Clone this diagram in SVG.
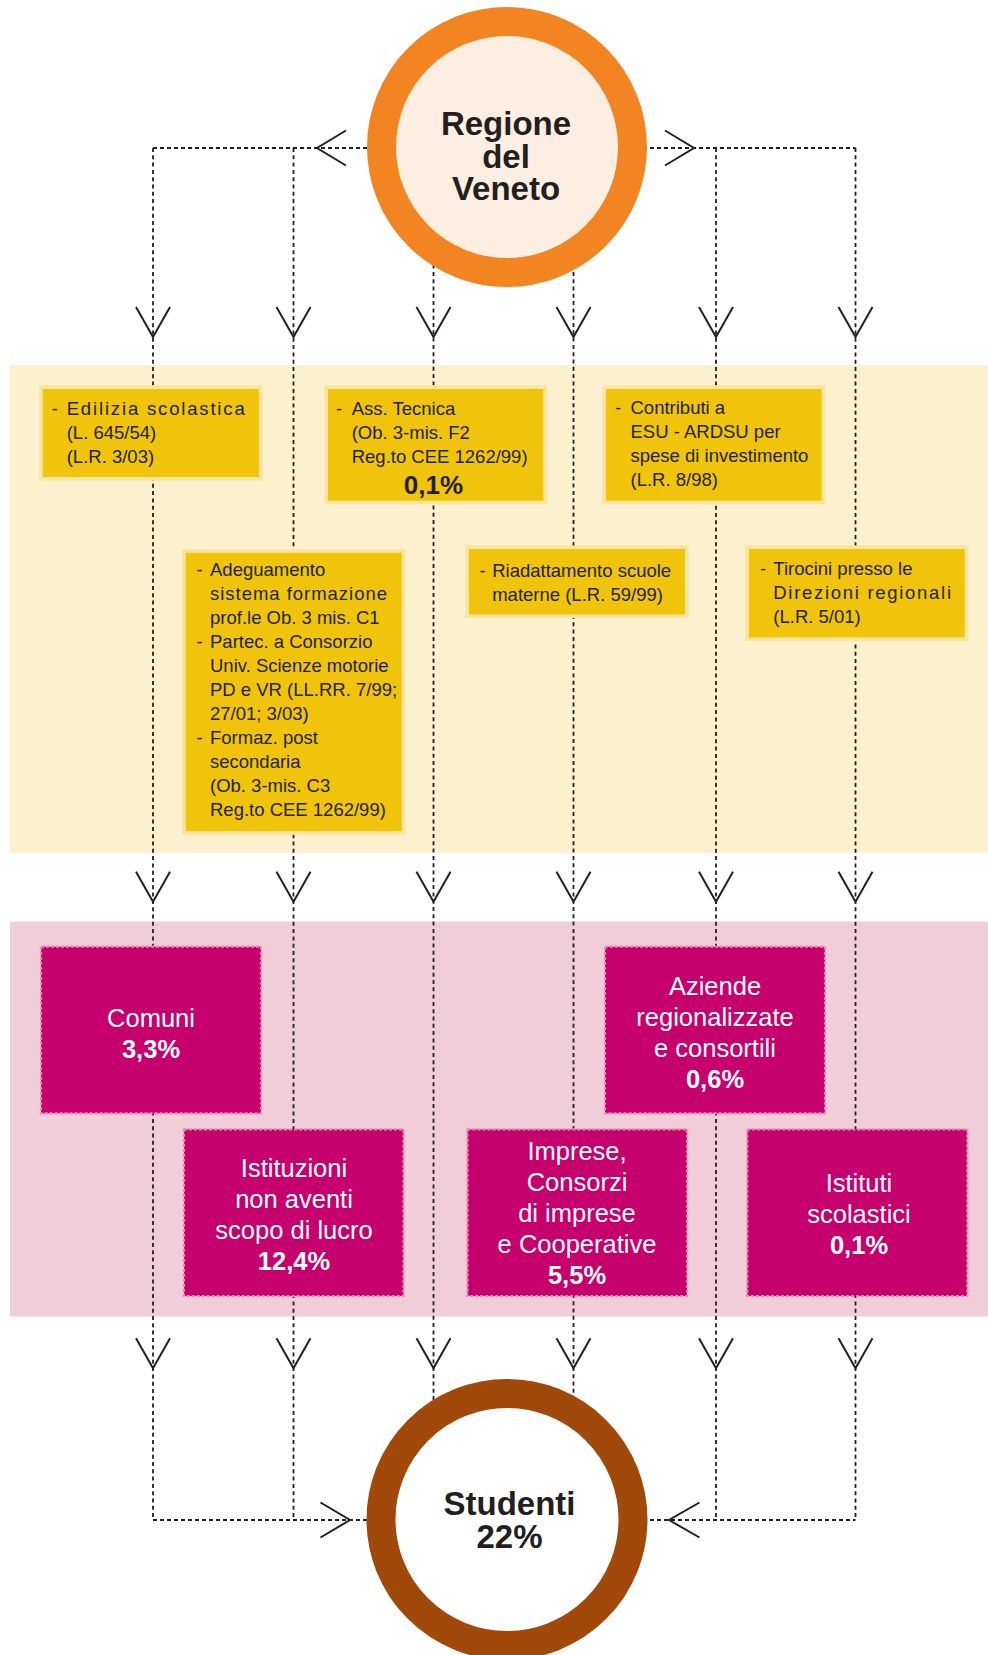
<svg xmlns="http://www.w3.org/2000/svg" xmlns:xlink="http://www.w3.org/1999/xlink" width="988" height="1655" viewBox="0 0 988 1655">
<defs>
<style>
.band-y{fill:#fcf0cf}
.band-p{fill:#f0cdd9}
.vline{fill:none;stroke:#231f20;stroke-width:1.8;stroke-dasharray:4 3.3}
.hline{fill:none;stroke:#231f20;stroke-width:2;stroke-dasharray:4 3}
.arrow{fill:none;stroke:#231f20;stroke-width:2}
.ybox{fill:#f1c40c;stroke:#fbe49e;stroke-width:3.6}
.mbox{fill:#c6006c;stroke:#e48ab4;stroke-width:2.2;stroke-dasharray:3 2}
.yt{font-family:"Liberation Sans",Arial,sans-serif;font-size:18.5px;fill:#231f20}
.yb{font-family:"Liberation Sans",Arial,sans-serif;font-size:26px;font-weight:bold;fill:#231f20;text-anchor:middle}
.mt{font-family:"Liberation Sans",Arial,sans-serif;font-size:25.5px;fill:#ffffff;text-anchor:middle}
.mb{font-family:"Liberation Sans",Arial,sans-serif;font-size:25.5px;font-weight:bold;fill:#ffffff;text-anchor:middle}
.ct{font-family:"Liberation Sans",Arial,sans-serif;font-size:33px;font-weight:bold;fill:#231f20;text-anchor:middle}
</style>
<path id="ah" d="M-17,-30 L0,0 L17,-30"/>
</defs>

<!-- bands -->
<rect class="band-y" x="10" y="365" width="978" height="488"/>
<rect class="band-p" x="10" y="921.5" width="978" height="395"/>

<!-- connectors -->
<g id="connectors">
  <line class="hline" x1="153" y1="148" x2="855.5" y2="148"/>
  <line class="hline" x1="153" y1="1520" x2="855.5" y2="1520"/>
  <line class="vline" x1="153" y1="148" x2="153" y2="1520"/>
  <line class="vline" x1="293.5" y1="148" x2="293.5" y2="1520"/>
  <line class="vline" x1="433.5" y1="250" x2="433.5" y2="1420"/>
  <line class="vline" x1="573.5" y1="250" x2="573.5" y2="1420"/>
  <line class="vline" x1="716" y1="148" x2="716" y2="1520"/>
  <line class="vline" x1="855.5" y1="148" x2="855.5" y2="1520"/>
  <g class="arrow">
    <use xlink:href="#ah" href="#ah" transform="translate(153,337)"/>
    <use xlink:href="#ah" href="#ah" transform="translate(293.5,337)"/>
    <use xlink:href="#ah" href="#ah" transform="translate(433.5,337)"/>
    <use xlink:href="#ah" href="#ah" transform="translate(573.5,337)"/>
    <use xlink:href="#ah" href="#ah" transform="translate(716,337)"/>
    <use xlink:href="#ah" href="#ah" transform="translate(855.5,337)"/>
    <use xlink:href="#ah" href="#ah" transform="translate(153,901.7)"/>
    <use xlink:href="#ah" href="#ah" transform="translate(293.5,901.7)"/>
    <use xlink:href="#ah" href="#ah" transform="translate(433.5,901.7)"/>
    <use xlink:href="#ah" href="#ah" transform="translate(573.5,901.7)"/>
    <use xlink:href="#ah" href="#ah" transform="translate(716,901.7)"/>
    <use xlink:href="#ah" href="#ah" transform="translate(855.5,901.7)"/>
    <use xlink:href="#ah" href="#ah" transform="translate(153,1368.3)"/>
    <use xlink:href="#ah" href="#ah" transform="translate(293.5,1368.3)"/>
    <use xlink:href="#ah" href="#ah" transform="translate(433.5,1368.3)"/>
    <use xlink:href="#ah" href="#ah" transform="translate(573.5,1368.3)"/>
    <use xlink:href="#ah" href="#ah" transform="translate(716,1368.3)"/>
    <use xlink:href="#ah" href="#ah" transform="translate(855.5,1368.3)"/>
    <!-- horizontal arrowheads -->
    <path d="M346,130.5 L317,148 L346,165.5"/>
    <path d="M665,130.5 L694,148 L665,165.5"/>
    <path d="M320.5,1502.5 L350,1520 L320.5,1537.5"/>
    <path d="M699.5,1502.5 L669,1520 L699.5,1537.5"/>
  </g>
</g>

<!-- top circle -->
<g id="regione">
  <circle cx="507" cy="147" r="125.5" fill="#fdeee2" stroke="#f28522" stroke-width="29"/>
  <text class="ct" x="506" y="135">Regione</text>
  <text class="ct" x="506" y="167.5">del</text>
  <text class="ct" x="506" y="200">Veneto</text>
</g>

<!-- yellow boxes -->
<g id="edilizia">
  <rect class="ybox" x="41" y="387.2" width="219.7" height="91.6"/>
  <text class="yt" x="51.5" y="415">-</text>
  <text class="yt" x="66.7" y="415" textLength="178" lengthAdjust="spacing">Edilizia  scolastica</text>
  <text class="yt" x="66.7" y="439">(L. 645/54)</text>
  <text class="yt" x="66.7" y="463">(L.R. 3/03)</text>
</g>

<g id="asstecnica">
  <rect class="ybox" x="326.2" y="387.2" width="218.9" height="115.3"/>
  <text class="yt" x="336" y="415">-</text>
  <text class="yt" x="351.7" y="415">Ass. Tecnica</text>
  <text class="yt" x="351.7" y="439">(Ob. 3-mis. F2</text>
  <text class="yt" x="351.7" y="463">Reg.to CEE 1262/99)</text>
  <text class="yb" x="433.5" y="494">0,1%</text>
</g>

<g id="contributi">
  <rect class="ybox" x="604.3" y="387.2" width="219.1" height="115.3"/>
  <text class="yt" x="615" y="414">-</text>
  <text class="yt" x="630.5" y="414">Contributi a</text>
  <text class="yt" x="630.5" y="438">ESU - ARDSU per</text>
  <text class="yt" x="630.5" y="462">spese di investimento</text>
  <text class="yt" x="630.5" y="486">(L.R. 8/98)</text>
</g>

<g id="adeguamento">
  <rect class="ybox" x="183.9" y="550.9" width="219.6" height="282"/>
  <text class="yt" x="196.5" y="576">-</text>
  <text class="yt" x="210" y="576">Adeguamento</text>
  <text class="yt" x="210" y="600" textLength="177" lengthAdjust="spacing">sistema  formazione</text>
  <text class="yt" x="210" y="624">prof.le Ob. 3 mis. C1</text>
  <text class="yt" x="196.5" y="648">-</text>
  <text class="yt" x="210" y="648">Partec. a Consorzio</text>
  <text class="yt" x="210" y="672">Univ. Scienze motorie</text>
  <text class="yt" x="210" y="696">PD e VR (LL.RR. 7/99;</text>
  <text class="yt" x="210" y="720">27/01; 3/03)</text>
  <text class="yt" x="196.5" y="744">-</text>
  <text class="yt" x="210" y="744">Formaz. post</text>
  <text class="yt" x="210" y="768">secondaria</text>
  <text class="yt" x="210" y="792">(Ob. 3-mis. C3</text>
  <text class="yt" x="210" y="816">Reg.to CEE 1262/99)</text>
</g>

<g id="riadattamento">
  <rect class="ybox" x="467.1" y="547.2" width="219.7" height="69"/>
  <text class="yt" x="479.5" y="576.5">-</text>
  <text class="yt" x="492.2" y="576.5">Riadattamento scuole</text>
  <text class="yt" x="492.2" y="600.5">materne (L.R. 59/99)</text>
</g>

<g id="tirocini">
  <rect class="ybox" x="747.1" y="547.2" width="219.5" height="92"/>
  <text class="yt" x="760" y="575">-</text>
  <text class="yt" x="773.3" y="575">Tirocini presso le</text>
  <text class="yt" x="773.3" y="599" textLength="177.7" lengthAdjust="spacing">Direzioni  regionali</text>
  <text class="yt" x="773.3" y="623">(L.R. 5/01)</text>
</g>

<!-- magenta boxes -->
<g id="comuni">
  <rect class="mbox" x="41" y="946.7" width="220" height="166.6"/>
  <text class="mt" x="151" y="1027">Comuni</text>
  <text class="mb" x="151" y="1058">3,3%</text>
</g>

<g id="aziende">
  <rect class="mbox" x="605" y="946.7" width="220" height="166.6"/>
  <text class="mt" x="715" y="995">Aziende</text>
  <text class="mt" x="715" y="1026">regionalizzate</text>
  <text class="mt" x="715" y="1057">e consortili</text>
  <text class="mb" x="715" y="1088">0,6%</text>
</g>

<g id="istituzioni">
  <rect class="mbox" x="184" y="1129.3" width="219.5" height="166.7"/>
  <text class="mt" x="294" y="1177">Istituzioni</text>
  <text class="mt" x="294" y="1208">non aventi</text>
  <text class="mt" x="294" y="1239">scopo di lucro</text>
  <text class="mb" x="294" y="1270">12,4%</text>
</g>

<g id="imprese">
  <rect class="mbox" x="467.5" y="1129.3" width="219.5" height="166.7"/>
  <text class="mt" x="577" y="1159.5">Imprese,</text>
  <text class="mt" x="577" y="1190.5">Consorzi</text>
  <text class="mt" x="577" y="1221.5">di imprese</text>
  <text class="mt" x="577" y="1252.5">e Cooperative</text>
  <text class="mb" x="577" y="1283.5">5,5%</text>
</g>

<g id="istituti">
  <rect class="mbox" x="747.3" y="1129.3" width="220" height="166.7"/>
  <text class="mt" x="859" y="1191.5">Istituti</text>
  <text class="mt" x="859" y="1222.5">scolastici</text>
  <text class="mb" x="859" y="1253.5">0,1%</text>
</g>

<!-- bottom circle -->
<g id="studenti">
  <circle cx="507" cy="1519.5" r="126" fill="#ffffff" stroke="#a0490a" stroke-width="29"/>
  <text class="ct" x="509.5" y="1515">Studenti</text>
  <text class="ct" x="509.5" y="1548">22%</text>
</g>
</svg>
